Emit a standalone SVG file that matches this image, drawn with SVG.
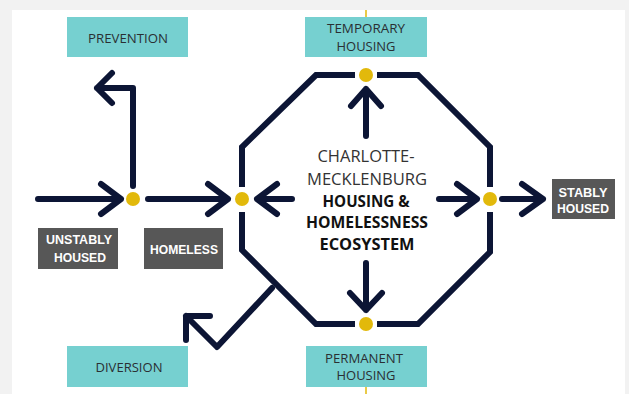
<svg xmlns="http://www.w3.org/2000/svg" width="629" height="394" viewBox="0 0 629 394">
<style>
.teal{fill:#76d0d0}
.gray{fill:#575757}
.ln{fill:none;stroke:#0c1535;stroke-width:6;stroke-linejoin:miter}
.ar{fill:none;stroke:#0c1535;stroke-width:6;stroke-linecap:round;stroke-linejoin:round}
.dot{fill:#e2b90b}
.yl{stroke:#e2b90b;stroke-width:1.5}
.lt{font-family:"Open Sans","Liberation Sans",sans-serif;font-size:13px;fill:#2a2f33;text-anchor:middle}
.wt{font-family:"Liberation Sans",Arial,sans-serif;font-size:13.5px;font-weight:bold;fill:#ffffff;text-anchor:middle}
.ct{font-family:"Open Sans","Liberation Sans",sans-serif;font-size:16px;fill:#333333;text-anchor:middle}
.cb{font-family:"Open Sans","Liberation Sans",sans-serif;font-size:16px;font-weight:bold;fill:#111111;text-anchor:middle}
</style>
<rect width="629" height="394" fill="#f2f2f2"/>
<rect x="12" y="10" width="613" height="384" fill="#ffffff"/>
<line class="yl" x1="366" y1="10" x2="366" y2="17"/>
<line class="yl" x1="366" y1="387" x2="366" y2="394"/>
<g id="connectors">
<path class="ln" d="M242 187V147L316 75H355"/>
<path class="ln" d="M377 75H418L490 147V187"/>
<path class="ln" d="M490 212V252L418 324H377"/>
<path class="ln" d="M355 324H316L242 250V212"/>
<path class="ar" d="M272 288L217 347L186 316M186 316H210M186 316V340"/>
<path class="ar" d="M133 186V88H97M112 73L97 88L112 103"/>
<path class="ar" d="M38 199H121M101 184L121 199L101 214"/>
<path class="ar" d="M148 199H228M208 184L228 199L208 214"/>
<path class="ar" d="M292 199H257M277 184L257 199L277 214"/>
<path class="ar" d="M439 199H477M457 184L477 199L457 214"/>
<path class="ar" d="M502 199H543M522 184L543 199L522 214"/>
<path class="ar" d="M366 136V89M351 106L366 89L381 106"/>
<path class="ar" d="M366 263V310M350 293L366 310L382 293"/>
</g>
<g id="dots">
<circle class="dot" cx="133" cy="199" r="7"/>
<circle class="dot" cx="242" cy="199" r="7"/>
<circle class="dot" cx="490" cy="199" r="7"/>
<circle class="dot" cx="366" cy="75" r="7"/>
<circle class="dot" cx="366" cy="324" r="7"/>
</g>
<g id="prevention"><rect class="teal" x="67" y="17" width="121" height="40"/><text class="lt" x="128" y="43" textLength="80" lengthAdjust="spacingAndGlyphs">PREVENTION</text></g>
<g id="temporary-housing"><rect class="teal" x="305" y="17" width="122" height="40"/><text class="lt" x="366" y="33" textLength="78" lengthAdjust="spacingAndGlyphs">TEMPORARY</text><text class="lt" x="366" y="51" textLength="59" lengthAdjust="spacingAndGlyphs">HOUSING</text></g>
<g id="permanent-housing"><rect class="teal" x="306" y="346" width="121" height="41"/><text class="lt" x="364" y="363" textLength="78" lengthAdjust="spacingAndGlyphs">PERMANENT</text><text class="lt" x="366" y="380" textLength="59" lengthAdjust="spacingAndGlyphs">HOUSING</text></g>
<g id="diversion"><rect class="teal" x="67" y="346" width="121" height="41"/><text class="lt" x="129" y="372" textLength="67" lengthAdjust="spacingAndGlyphs">DIVERSION</text></g>
<g id="unstably-housed"><rect class="gray" x="38" y="228" width="80" height="41"/><text class="wt" x="79" y="244" textLength="66" lengthAdjust="spacingAndGlyphs">UNSTABLY</text><text class="wt" x="80" y="262" textLength="52" lengthAdjust="spacingAndGlyphs">HOUSED</text></g>
<g id="homeless"><rect class="gray" x="144" y="228" width="79" height="41"/><text class="wt" x="184" y="254" textLength="68" lengthAdjust="spacingAndGlyphs">HOMELESS</text></g>
<g id="stably-housed"><rect class="gray" x="552" y="179" width="63" height="40"/><text class="wt" x="583" y="197" textLength="49" lengthAdjust="spacingAndGlyphs">STABLY</text><text class="wt" x="583" y="213" textLength="52" lengthAdjust="spacingAndGlyphs">HOUSED</text></g>
<g id="ecosystem">
<text class="ct" x="366" y="162" textLength="97" lengthAdjust="spacingAndGlyphs">CHARLOTTE-</text>
<text class="ct" x="367" y="185" textLength="120" lengthAdjust="spacingAndGlyphs">MECKLENBURG</text>
<text class="cb" x="366" y="207" textLength="87" lengthAdjust="spacingAndGlyphs">HOUSING &amp;</text>
<text class="cb" x="367" y="228" textLength="122" lengthAdjust="spacingAndGlyphs">HOMELESSNESS</text>
<text class="cb" x="367" y="250" textLength="95" lengthAdjust="spacingAndGlyphs">ECOSYSTEM</text>
</g>
</svg>
